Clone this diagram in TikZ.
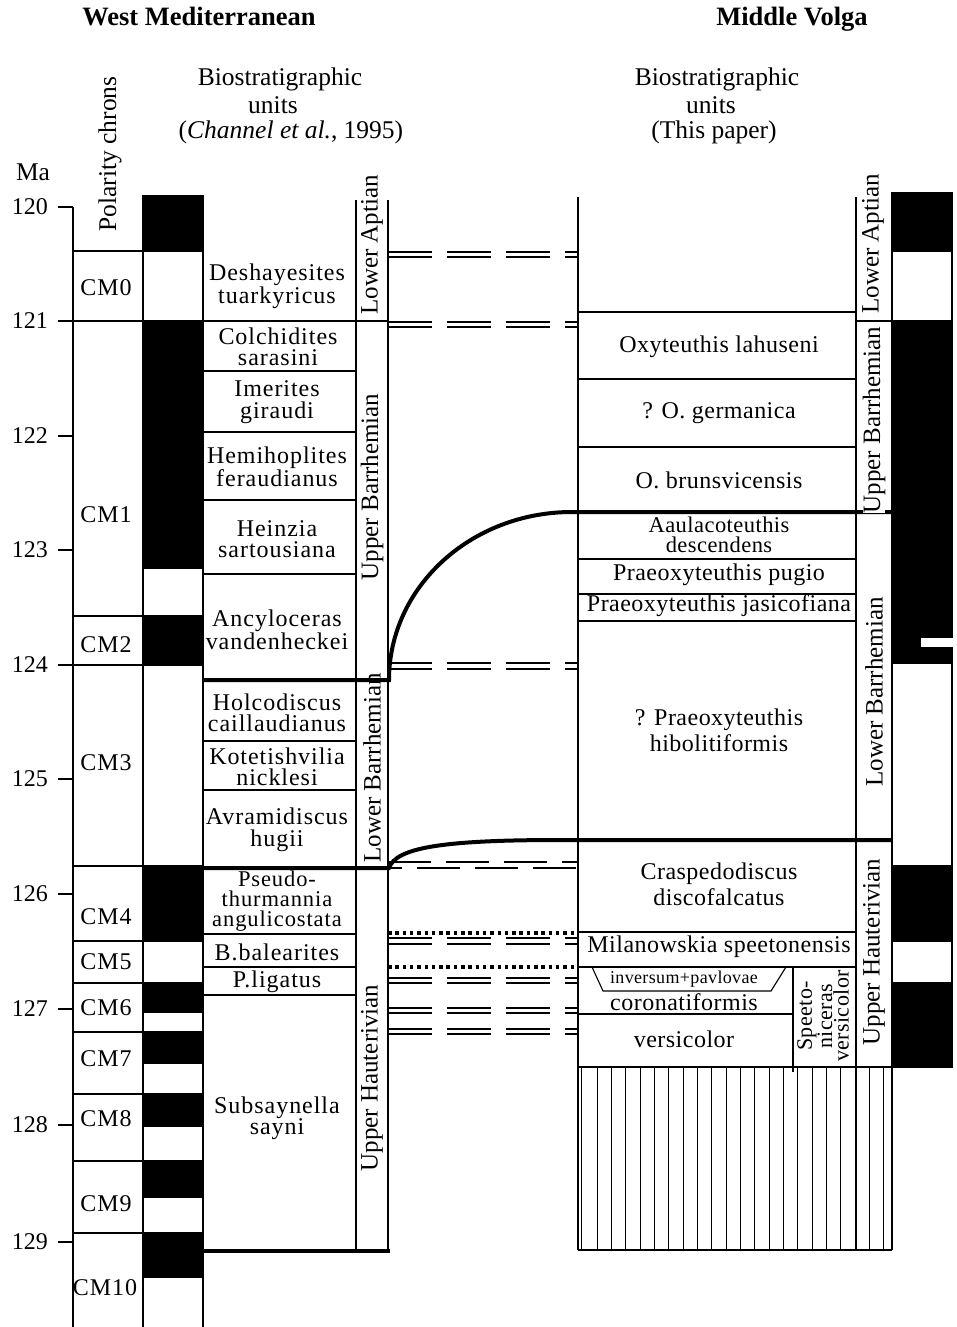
\documentclass[tikz,border=0pt]{standalone}
\usepackage{fontspec}
\setmainfont{Liberation Serif}
\newfontfamily\lfont[LetterSpace=4]{Liberation Serif}
\newfontfamily\rfont[LetterSpace=2]{Liberation Serif}
\begin{document}
\begin{tikzpicture}[x=1pt,y=-1pt]
\tikzset{
  ln/.style={line width=1.1pt},
  thk/.style={line width=4pt},
  ddash/.style={line width=2pt, dash pattern=on 44pt off 15pt},
  ddashb/.style={line width=2pt, dash pattern=on 43pt off 15pt},
  dotrow/.style={line width=3.5pt, dash pattern=on 3.5pt off 3.8pt},
  blk/.style={fill=black, draw=black, line width=1.1pt},
  hatch/.style={line width=0.8pt},
  lname/.style={font=\lfont\fontsize{24}{21.5}\selectfont, align=center, inner sep=0pt},
  rname/.style={font=\rfont\fontsize{24}{26}\selectfont, align=center, inner sep=0pt},
  chronlbl/.style={font=\lfont\fontsize{24}{24}\selectfont, inner sep=0pt},
  stagelbl/.style={font=\fontsize{25}{25}\selectfont, rotate=90, inner sep=0pt},
  hdtext/.style={font=\fontsize{25.5}{25}\selectfont, inner sep=0pt},
  ttltext/.style={font=\bfseries\fontsize{26.5}{26}\selectfont, inner sep=0pt, anchor=base},
  manum/.style={font=\fontsize{24}{24}\selectfont, inner sep=0pt, anchor=east},
}
\fill[white] (0,0) rectangle (956,1327);
\useasboundingbox (0,0) rectangle (956,1327);

% ---------- titles and headers ----------
\node[ttltext] (tw) at (199,26) {West Mediterranean};
\node[ttltext] (tv) at (792,26) {Middle Volga};
\node[hdtext] (hl1) at (280,79) {Biostratigraphic};
\node[hdtext] (hl2) at (273,105) {units};
\node[hdtext] (hl3) at (291,132) {(\textit{Channel et al.}, 1995)};
\node[hdtext] (hr1) at (717,79) {Biostratigraphic};
\node[hdtext] (hr2) at (711,105) {units};
\node[hdtext] (hr3) at (714,132) {(This paper)};
\node[hdtext, rotate=90] (pc) at (110,154) {Polarity chrons};
\node[hdtext] (ma) at (33,172) {Ma};

% ---------- Ma axis ----------
\draw[ln] (73,207) -- (73,1327);
\foreach \y/\t in {207/120,321/121,436/122,550/123,665/124,779/125,894/126,1009/127,1125/128,1242/129} {
  \draw[ln] (58,\y) -- (73,\y);
  \node[manum] (ma\t) at (48,\y) {\t};
}

% ---------- chrons ----------
\foreach \y in {251,321,616,665,866,941,983,1032,1094,1161,1233}
  \draw[ln] (73,\y) -- (143,\y);
\node[chronlbl] (c0) at (106,288) {CM0};
\node[chronlbl] (c1) at (106,515) {CM1};
\node[chronlbl] (c2) at (106,645) {CM2};
\node[chronlbl] (c3) at (106,763) {CM3};
\node[chronlbl] (c4) at (106,917) {CM4};
\node[chronlbl] (c5) at (106,962) {CM5};
\node[chronlbl] (c6) at (106,1008) {CM6};
\node[chronlbl] (c7) at (106,1059) {CM7};
\node[chronlbl] (c8) at (106,1119) {CM8};
\node[chronlbl] (c9) at (106,1204) {CM9};
\node[chronlbl] (c10) at (105,1288) {CM10};

% ---------- left polarity ----------
\foreach \a/\b in {196/251,321/568,616/665,866/941,983/1012,1032/1063,1094/1126,1161/1197,1233/1277}
  \filldraw[blk] (143,\a) rectangle (203,\b);
\draw[ln] (143,196) -- (143,1327);
\draw[ln] (203,196) -- (203,1327);

% ---------- left biostratigraphy ----------
\draw[ln] (58,321) -- (388,321);
\foreach \y in {371,432,500,574,741,790,934,967,995}
  \draw[ln] (203,\y) -- (356,\y);
\draw[ln] (356,200) -- (356,1251);
\draw[ln] (388,200) -- (388,1251);
\draw[thk] (203,1251) -- (390,1251);

\node[lname] (b1) at (277,286) {Deshayesites\\tuarkyricus};
\node[lname] (b2) at (278,347) {Colchidites\\sarasini};
\node[lname] (b3) at (277,402) {Imerites\\giraudi};
\node[lname] (b4) at (277,467) {Hemihoplites\\feraudianus};
\node[lname] (b5) at (277,539) {Heinzia\\sartousiana};
\node[lname] (b6) at (277,630) {Ancyloceras\\vandenheckei};
\node[lname] (b7) at (277,713) {Holcodiscus\\caillaudianus};
\node[lname] (b8) at (277,767) {Kotetishvilia\\nicklesi};
\node[lname] (b9) at (277,830) {Avramidiscus\\hugii};
\node[lname, font=\lfont\fontsize{22.5}{20}\selectfont] (b10) at (277,901) {Pseudo-\\thurmannia\\angulicostata};
\node[lname] (b11) at (277,952) {B.balearites};
\node[lname] (b12) at (277,982) {P.ligatus};
\node[lname] (b13) at (277,1118) {Subsaynella\\sayni};

\node[stagelbl] (s1) at (372,245) {Lower Aptian};
\node[stagelbl] (s2) at (372,487) {Upper Barrhemian};
\node[stagelbl] (s3) at (372,768) {Lower Barrhemian};
\node[stagelbl] (s4) at (372,1078) {Upper Hauterivian};

% ---------- right column ----------
\draw[ln] (578,197) -- (578,1250);
\draw[ln] (856,197) -- (856,1250);
\draw[ln] (892,193) -- (892,1250);
\draw[ln] (578,1250) -- (892,1250);
\draw[ln] (578,312) -- (856,312);
\draw[ln] (856,321) -- (892,321);
\foreach \y in {379,447,559,594,621,932,967}
  \draw[ln] (578,\y) -- (856,\y);
\draw[ln] (578,1014) -- (793,1014);
\draw[ln] (793,967) -- (793,1072);
\draw[ln] (592,967) -- (603,991) -- (771,991) -- (786,967);
\draw[ln] (578,1067) -- (892,1067);
% hatching
\draw[hatch] (581,1067) -- (581,1250);
\foreach \i in {0,...,20}
  \draw[hatch] ({597+14.33*\i},1067) -- ({597+14.33*\i},1250);

% right polarity
\foreach \a/\b in {193/251,321/663,866/941,983/1067}
  \filldraw[blk] (892,\a) rectangle (952,\b);
\draw[ln] (952,193) -- (952,1067);
\fill[white] (921,638) rectangle (956,647);

% ---------- correlation lines ----------
\draw[thk] (203,680) -- (389,680) .. controls (389,587) and (471,512) .. (572,512) -- (892,512);
\draw[thk] (203,868) -- (389,868) .. controls (396,848) and (440,840) .. (560,840) -- (892,840);

\foreach \y in {251.5,256.5,321.5,326.5,663,668.5,938,943.5,977.5,983,1007.5,1013,1028.5,1034}
  \draw[ddash] (388,\y) -- (578,\y);
\draw[ddashb] (388,862) -- (578,862);
\draw[ddashb, dash phase=29pt] (388,868) -- (578,868);
\draw[dotrow] (388,933) -- (578,933);
\draw[dotrow] (388,967) -- (578,967);

% right names
\node[rname] (r1) at (719,347) {Oxyteuthis lahuseni};
\node[rname] (r2) at (719,413) {? O. germanica};
\node[rname] (r3) at (719,480) {O. brunsvicensis};
\node[rname, font=\rfont\fontsize{22.5}{20.5}\selectfont] (r4) at (719,535) {Aaulacoteuthis\\descendens};
\node[rname] (r5) at (719,575) {Praeoxyteuthis pugio};
\node[rname] (r6) at (719,606) {Praeoxyteuthis jasicofiana};
\node[rname] (r7) at (719,730) {? Praeoxyteuthis\\hibolitiformis};
\node[rname] (r8) at (719,884) {Craspedodiscus\\discofalcatus};
\node[rname] (r9) at (719,947) {Milanowskia speetonensis};
\node[rname, font=\rfont\fontsize{18}{18}\selectfont] (r10) at (684,979) {inversum+pavlovae};
\node[rname] (r11) at (684,1002) {coronatiformis};
\node[rname] (r12) at (684,1039) {versicolor};
\node[rname, rotate=90, font=\rfont\fontsize{22}{15}\selectfont] (r13) at (823,1016) {Speeto-\\niceras\\versicolor};

\node[stagelbl] (t1) at (873,244) {Lower Aptian};
\node[stagelbl, fill=white] (t2) at (874,420) {Upper Barrhemian};
\node[stagelbl] (t3) at (874,692) {Lower Barrhemian};
\node[stagelbl] (t4) at (874,952) {Upper Hauterivian};
\end{tikzpicture}
\end{document}
